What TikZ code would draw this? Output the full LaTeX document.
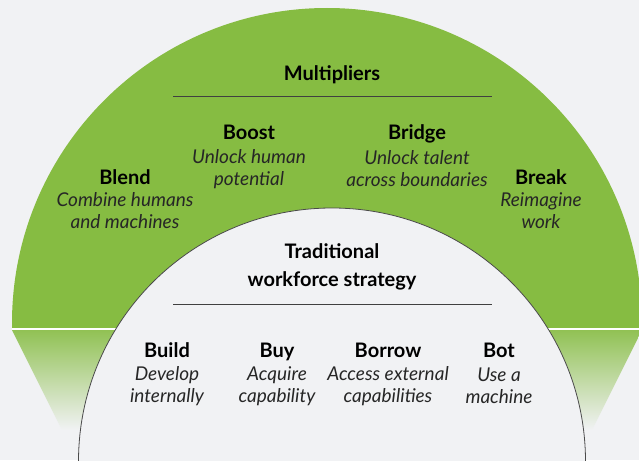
\documentclass[tikz,border=0pt]{standalone}
\usepackage{fontspec}
\setmainfont{Lato}
\usepackage{tikz}
\usepackage{xcolor}
\usetikzlibrary{positioning}

\definecolor{bggray}{HTML}{F1F2F4}
\definecolor{leafgreen}{HTML}{86BC42}
\definecolor{rimgray}{HTML}{4A4A4A}

\begin{document}
\begin{tikzpicture}[x=1pt,y=-1pt,
  head/.style={font=\fontsize{20}{22}\selectfont\bfseries,inner sep=0pt,text height=14.4pt,text depth=0pt},
  note/.style={font=\fontsize{19}{22}\selectfont\itshape,align=center,inner sep=0pt,text=black!85},
  rule/.style={draw=black!75,line width=0.9pt}]
\clip (0,0) rectangle (639,460);
\useasboundingbox (0,0) rectangle (639,460);
\fill[bggray] (0,0) rectangle (639,460);
% green ring
\begin{scope}
\clip (0,0) rectangle (639,328);
\fill[leafgreen] (327,323) circle (315);
\end{scope}
\shade[top color=leafgreen!90!bggray,bottom color=bggray] (12,330) -- (642,330) -- (592,430) -- (62,430) -- cycle;
\draw[white,line width=1.5pt] (12,329) -- (639,329);
% inner half
\fill[bggray] (332,461.5) circle (253.5);
\draw[rimgray,line width=0.8pt] (332,461.5) circle (253.5);
% multipliers
\node (mult) at (332,73) [head] {Multipliers};
\coordinate (multL) at (173,96);
\coordinate (multR) at (492,96);
\draw[rule] (multL) -- (multR);
\node (boost) at (249,132) [head] {Boost};
\node (boostT) at (249,169) [note] {Unlock human\\potential};
\node (bridge) at (417,132) [head] {Bridge};
\node (bridgeT) at (417,169) [note] {Unlock talent\\across boundaries};
\node (blend) at (125,177) [head] {Blend};
\node (blendT) at (125,211) [note] {Combine humans\\and machines};
\node (break) at (541,177) [head] {Break};
\node (breakT) at (541,211) [note] {Reimagine\\work};
% traditional
\node (trad) at (332,267) [head,align=center,text height=,text depth=,font=\fontsize{20}{28}\selectfont\bfseries] {Traditional\\workforce strategy};
\coordinate (tradL) at (173,304);
\coordinate (tradR) at (492,304);
\draw[rule] (tradL) -- (tradR);
\node (build) at (167,350) [head] {Build};
\node (buildT) at (167,386) [note] {Develop\\internally};
\node (buy) at (277,350) [head] {Buy};
\node (buyT) at (277,386) [note] {Acquire\\capability};
\node (borrow) at (388,350) [head] {Borrow};
\node (borrowT) at (388,386) [note] {Access external\\capabilities};
\node (bot) at (499,350) [head] {Bot};
\node (botT) at (499,386) [note] {Use a\\machine};
\end{tikzpicture}
\end{document}
